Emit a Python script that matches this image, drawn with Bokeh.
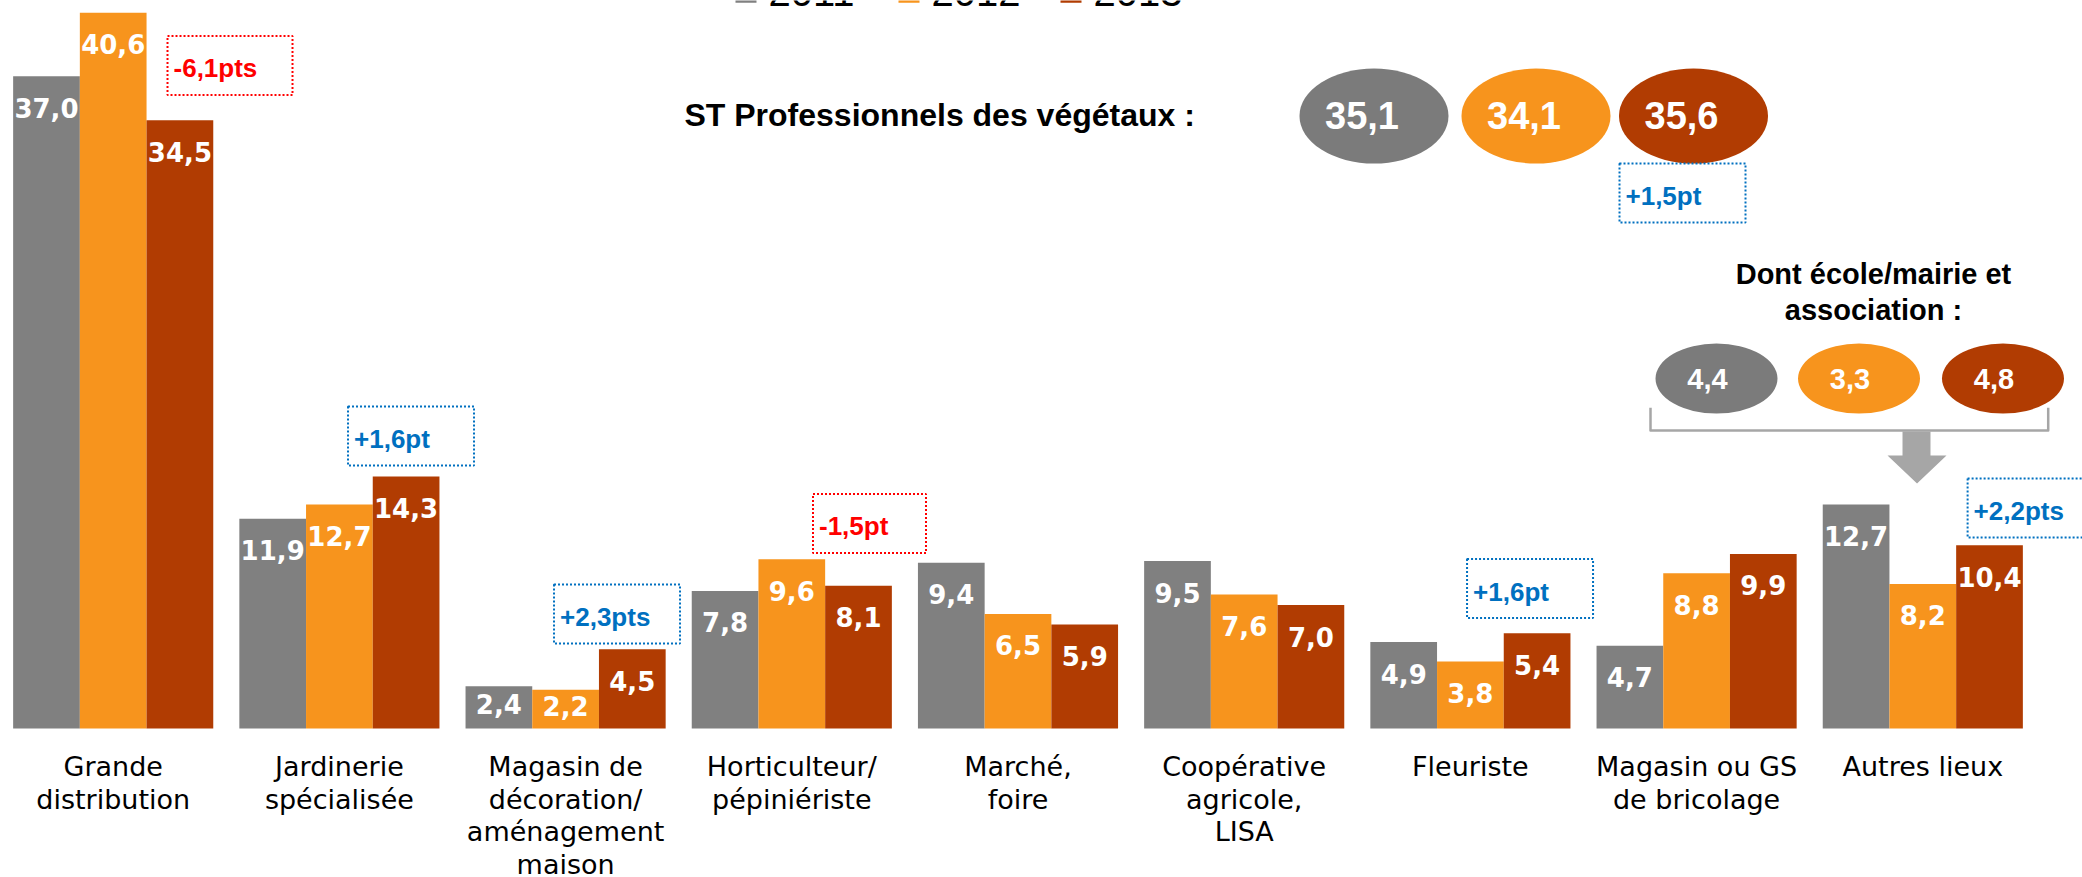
from bokeh.plotting import figure
from bokeh.models import ColumnDataSource, Range1d
from bokeh.core.properties import value
from bokeh.embed import file_html
from bokeh.resources import INLINE

# ---------------- data ----------------
categories = [
    "Grande\ndistribution",
    "Jardinerie\nspécialisée",
    "Magasin de\ndécoration/\naménagement\nmaison",
    "Horticulteur/\npépiniériste",
    "Marché,\nfoire",
    "Coopérative\nagricole,\nLISA",
    "Fleuriste",
    "Magasin ou GS\nde bricolage",
    "Autres lieux",
]
years = ["2011", "2012", "2013"]
v2011 = [37.0, 11.9, 2.4, 7.8, 9.4, 9.5, 4.9, 4.7, 12.7]
v2012 = [40.6, 12.7, 2.2, 9.6, 6.5, 7.6, 3.8, 8.8, 8.2]
v2013 = [34.5, 14.3, 4.5, 8.1, 5.9, 7.0, 5.4, 9.9, 10.4]

st_label = "ST Professionnels des végétaux :"
st_values = [35.1, 34.1, 35.6]
dont_label = ["Dont école/mairie et", "association :"]
dont_values = [4.4, 3.3, 4.8]

change_labels = ["-6,1pts", "+1,6pt", "+2,3pts", "-1,5pt", "+1,6pt", "+2,2pts", "+1,5pt"]
change_sign = [-1, 1, 1, -1, 1, 1, 1]

# ---------------- style / layout ----------------
GRAY, ORANGE, RUST = "#808080", "#F7941D", "#B13C02"
ELL_GRAY = "#7B7B7B"
RED, BLUE = "#FF0000", "#0070C0"
DECO = "#A6A6A6"

W, H = 2082, 877
PX_X = 226.2      # px per category
PX_Y = 17.63      # px per percentage point
X0 = 112.7        # px of first category centre
BASE = 728        # px of zero line
BW = 0.2949       # bar width (category units)

x_start = -X0 / PX_X
x_end = x_start + W / PX_X
y_end = BASE / PX_Y
y_start = -(H - BASE) / PX_Y

p = figure(width=W, height=H, output_backend="svg", toolbar_location=None,
           x_axis_location=None, y_axis_location=None,
           x_range=Range1d(x_start, x_end), y_range=Range1d(y_start, y_end),
           min_border_left=0, min_border_right=0, min_border_top=0, min_border_bottom=0)
p.grid.visible = False
p.outline_line_color = None
p.background_fill_color = "white"

fmt = lambda v: f"{v:.1f}".replace(".", ",")

# legend (partly above the top edge, as in the original)
leg_src = ColumnDataSource(dict(x=[2.7975, 3.5181, 4.2343], tx=[2.8970, 3.6176, 4.3338],
                                y=[41.76] * 3, c=[GRAY, ORANGE, RUST], t=years))
p.rect(x="x", y="y", width=21, height=21, width_units="screen", height_units="screen",
       fill_color="c", line_color=None, source=leg_src)
p.text(x="tx", y="y", text="t", source=leg_src, text_font=value("Liberation Sans"),
       text_font_size="40px", text_color="#000000", text_align="left", text_baseline="middle")

# bars + value labels
series = [v2011, v2012, v2013]
colors = [GRAY, ORANGE, RUST]
for j, (vals, col) in enumerate(zip(series, colors)):
    xs = [i + (j - 1) * BW for i in range(len(categories))]
    offs = []
    for v in vals:
        hpx = v * PX_Y
        offs.append(31.5 if hpx >= 60 else hpx / 2 - 3)
    src = ColumnDataSource(dict(x=xs, top=vals, lab=[fmt(v) for v in vals], off=offs))
    p.vbar(x="x", top="top", bottom=0, width=BW, source=src, fill_color=col, line_color=None)
    p.text(x="x", y="top", text="lab", y_offset="off", source=src,
           text_font=value("DejaVu Sans"), text_font_style="bold", text_font_size="26px",
           text_color="white", text_align="center", text_baseline="middle")

# category labels (below the zero line)
cx, cy, ct, co = [], [], [], []
for i, c in enumerate(categories):
    for k, line in enumerate(c.split("\n")):
        cx.append(i); cy.append(0); ct.append(line); co.append(38 + 32.7 * k)
p.text(x=cx, y=cy, text=ct, y_offset=co,
       text_font=value("DejaVu Sans"), text_font_size="27px", text_color="#000000",
       text_align="center", text_baseline="middle")

# ST professionnels summary
p.text(x=[2.5256], y=[34.80], text=[st_label], text_font=value("Liberation Sans"),
       text_font_style="bold", text_font_size="32px", text_color="#000000",
       text_align="left", text_baseline="middle")
st_x = [5.5738, 6.2900, 6.9863]
st_src = ColumnDataSource(dict(x=st_x, y=[34.74] * 3, c=[ELL_GRAY, ORANGE, RUST],
                               t=[fmt(v) for v in st_values]))
p.ellipse(x="x", y="y", width=149, height=95, width_units="screen", height_units="screen",
          fill_color="c", line_color=None, source=st_src)
p.text(x="x", y="y", text="t", x_offset=-12, y_offset=-1, source=st_src,
       text_font=value("Liberation Sans"),
       text_font_style="bold", text_font_size="38px", text_color="white",
       text_align="center", text_baseline="middle")

# Dont école/mairie et association
p.text(x=[7.782, 7.782], y=[25.77, 23.73], text=dont_label, text_font=value("Liberation Sans"),
       text_font_style="bold", text_font_size="29px", text_color="#000000",
       text_align="center", text_baseline="middle")
d_x = [7.0880, 7.7180, 8.3545]
d_src = ColumnDataSource(dict(x=d_x, y=[19.85] * 3, c=[ELL_GRAY, ORANGE, RUST],
                              t=[fmt(v) for v in dont_values]))
p.ellipse(x="x", y="y", width=122, height=70, width_units="screen", height_units="screen",
          fill_color="c", line_color=None, source=d_src)
p.text(x="x", y="y", text="t", x_offset=-9, source=d_src, text_font=value("Liberation Sans"),
       text_font_style="bold", text_font_size="29px", text_color="white",
       text_align="center", text_baseline="middle")

# bracket + arrow
p.line(x=[6.7962, 6.7962, 8.5544, 8.5544], y=[18.19, 16.90, 16.90, 18.19],
       line_color=DECO, line_width=2.5, line_join="round")
p.patch(x=[7.9103, 8.0340, 8.0340, 8.1048, 7.9745, 7.8440, 7.9103],
        y=[16.85, 16.85, 15.49, 15.49, 13.90, 15.49, 15.49],
        fill_color=DECO, line_color=None)

# evolution boxes
ann_x = [0.5164, 1.3166, 2.2273, 3.3435, 6.2637, 8.4766, 6.9377]
ann_y = [37.61, 16.59, 6.50, 11.63, 7.94, 12.51, 30.37]
ann_w = [125, 126, 126, 113, 126, 126, 126]
ann_c = [RED if s < 0 else BLUE for s in change_sign]
a_src = ColumnDataSource(dict(x=ann_x, y=ann_y, w=ann_w, c=ann_c, t=change_labels,
                              xo=[-w / 2 + 6 for w in ann_w]))
p.rect(x="x", y="y", width="w", height=59, width_units="screen", height_units="screen",
       fill_color=None, line_color="c", line_width=2, line_dash="2 2", source=a_src)
p.text(x="x", y="y", text="t", x_offset="xo", y_offset=3, source=a_src,
       text_font=value("Liberation Sans"), text_font_style="bold", text_font_size="26px",
       text_color="c", text_align="left", text_baseline="middle")

open("out.html", "w").write(file_html(p, INLINE))
